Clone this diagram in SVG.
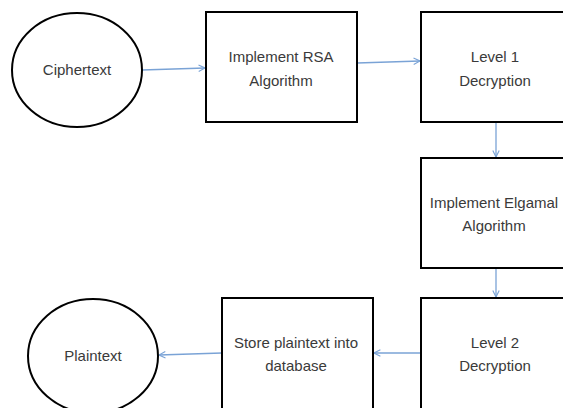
<svg xmlns="http://www.w3.org/2000/svg" width="563" height="408" viewBox="0 0 563 408">
  <style>
    .shape { fill: #ffffff; stroke: #000000; stroke-width: 2; }
    .label { font-family: "Liberation Sans", Arial, sans-serif; font-size: 15px; fill: #3a3a3a; text-anchor: middle; }
    .flow { fill: none; stroke: #7aa3d6; stroke-width: 1.3; marker-end: url(#head); }
  </style>
  <defs>
    <marker id="head" viewBox="0 0 10 10" refX="9" refY="5" markerWidth="8" markerHeight="8" markerUnits="userSpaceOnUse" orient="auto">
      <path d="M1,1 L9,5 L1,9" fill="none" stroke="#7aa3d6" stroke-width="1.4"/>
    </marker>
  </defs>
  <rect width="563" height="408" fill="#ffffff"/>

  <g id="connectors">
    <line class="flow" x1="142" y1="70" x2="205" y2="68"/>
    <line class="flow" x1="357" y1="63" x2="420" y2="61"/>
    <line class="flow" x1="496" y1="122" x2="496" y2="157"/>
    <line class="flow" x1="496" y1="268" x2="496" y2="297"/>
    <line class="flow" x1="421" y1="353" x2="374" y2="353"/>
    <line class="flow" x1="222" y1="353" x2="159" y2="355"/>
  </g>

  <g id="ciphertext">
    <ellipse class="shape" cx="77" cy="70" rx="65" ry="57"/>
    <text class="label" x="77" y="75">Ciphertext</text>
  </g>

  <g id="rsa">
    <rect class="shape" x="206" y="12" width="151" height="110"/>
    <text class="label" x="281" y="62">Implement RSA</text>
    <text class="label" x="281" y="86">Algorithm</text>
  </g>

  <g id="level1">
    <rect class="shape" x="421" y="12" width="151" height="110"/>
    <text class="label" x="495" y="62">Level 1</text>
    <text class="label" x="495" y="86">Decryption</text>
  </g>

  <g id="elgamal">
    <rect class="shape" x="421" y="158" width="151" height="110"/>
    <text class="label" x="494" y="208">Implement Elgamal</text>
    <text class="label" x="494" y="231">Algorithm</text>
  </g>

  <g id="level2">
    <rect class="shape" x="421" y="298" width="151" height="120"/>
    <text class="label" x="495" y="348">Level 2</text>
    <text class="label" x="495" y="371">Decryption</text>
  </g>

  <g id="store">
    <rect class="shape" x="222" y="298" width="151" height="120"/>
    <text class="label" x="296" y="348">Store plaintext into</text>
    <text class="label" x="296" y="371">database</text>
  </g>

  <g id="plaintext">
    <ellipse class="shape" cx="93" cy="356" rx="65" ry="57"/>
    <text class="label" x="93" y="361">Plaintext</text>
  </g>
</svg>
